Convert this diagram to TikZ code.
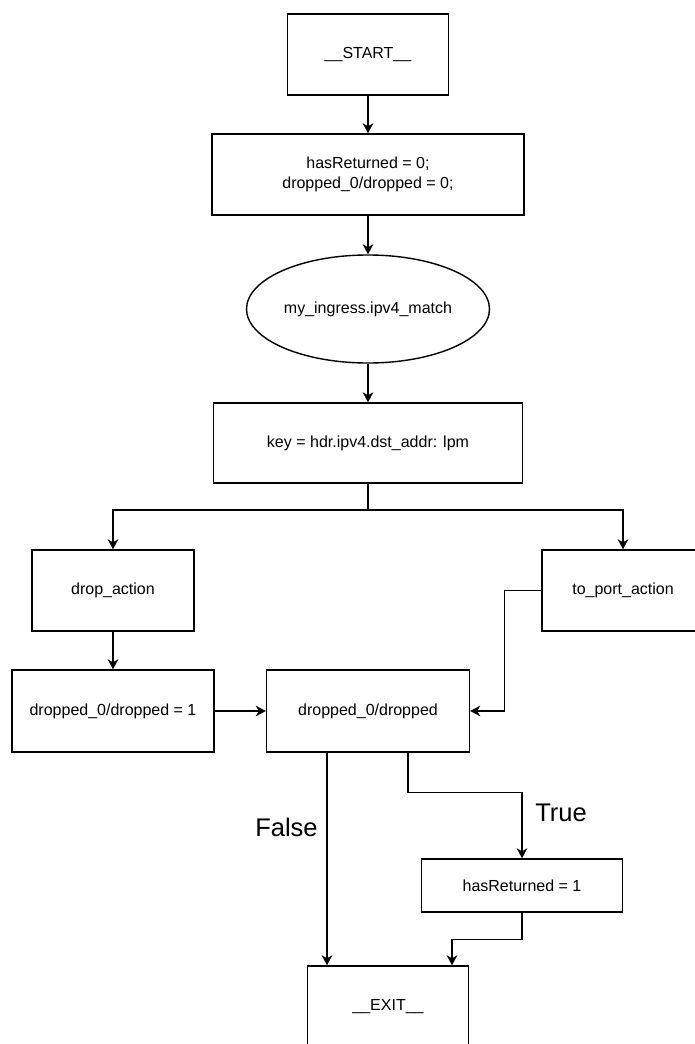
\documentclass[tikz,border=0pt]{standalone}
\usepackage{fontspec}
\setmainfont{Liberation Sans}
\usetikzlibrary{arrows.meta,shapes.geometric}

\tikzset{
  box/.style={draw=black, line width=1.4pt, rectangle, align=center,
    inner sep=0pt, font=\fontsize{16}{19.5}\selectfont},
  oval/.style={draw=black, line width=1.4pt, ellipse, inner sep=0pt,
    font=\fontsize{16}{19.5}\selectfont},
  arr/.style={draw=black, line width=1.4pt,
    -{Stealth[length=10pt,width=10.5pt,inset=3pt]}},
  link/.style={draw=black, line width=1.4pt},
  branchlabel/.style={font=\fontsize{25.5}{30}\selectfont, inner sep=0pt},
}

\begin{document}
\begin{tikzpicture}[x=1pt,y=-1pt]
  \useasboundingbox (0,0) rectangle (695,1044);
  \clip (0,0) rectangle (695,1044);

  % nodes
  \node[box, minimum width=161pt, minimum height=81pt] (start) at (368,54.5) {\_\_START\_\_};
  \node[box, minimum width=312pt, minimum height=81pt] (init) at (368,174.5)
    {hasReturned = 0;\\dropped\_0/dropped = 0;};
  \node[oval, minimum width=243pt, minimum height=108pt] (match) at (368,309) {my\_ingress.ipv4\_match};
  \node[box, minimum width=309pt, minimum height=80pt] (key) at (368,443) {key = hdr.ipv4.dst\_addr: lpm};
  \node[box, minimum width=162pt, minimum height=81pt] (drop) at (113,590.5) {drop\_action};
  \node[box, minimum width=162pt, minimum height=81pt] (toport) at (623,590.5) {to\_port\_action};
  \node[box, minimum width=202pt, minimum height=82pt] (setone) at (113,711) {dropped\_0/dropped = 1};
  \node[box, minimum width=203pt, minimum height=82pt] (test) at (368,711) {dropped\_0/dropped};
  \node[box, minimum width=201pt, minimum height=53pt] (hasret) at (522,885.5) {hasReturned = 1};
  \node[box, minimum width=161pt, minimum height=81pt] (exit) at (388,1006.5) {\_\_EXIT\_\_};

  % branch labels
  \node[branchlabel] (lfalse) at (286.5,827) {False};
  \node[branchlabel] (ltrue) at (561,813) {True};

  % connectors
  \draw[arr] (start.south) -- (init.north);
  \draw[arr] (init.south) -- (match.north);
  \draw[arr] (match.south) -- (key.north);
  \coordinate (split) at (368,510);
  \draw[link] (key.south) -- (split);
  \draw[arr] (split) -| (drop.north);
  \draw[arr] (split) -| (toport.north);
  \draw[arr] (drop.south) -- (setone.north);
  \draw[arr] (setone.east) -- (test.west);
  \draw[arr] (toport.west) -- ++(-37,0) |- (test.east);
  \draw[arr] (test.south -| 327,0) -- (exit.north -| 327,0);
  \draw[arr] (test.south -| 408,0) -- ++(0,40) -| (hasret.north);
  \draw[arr] (hasret.south) -- ++(0,27) -| (exit.north -| 452,0);
\end{tikzpicture}
\end{document}
